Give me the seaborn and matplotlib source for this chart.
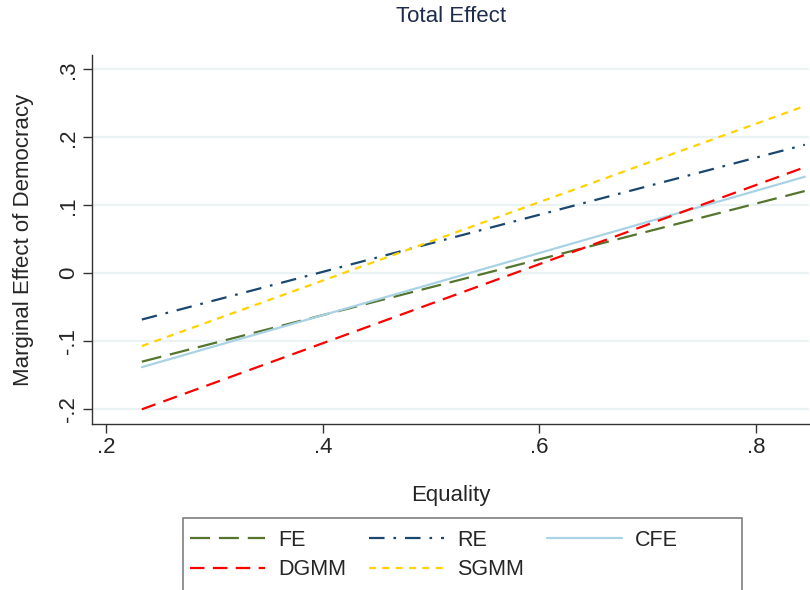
import matplotlib
matplotlib.use("Agg")
import matplotlib.pyplot as plt
import seaborn as sns
import pandas as pd
from matplotlib.patches import Rectangle
from matplotlib.lines import Line2D

# ---- data ----
equality = [0.233, 0.845]
fe = [-0.130, 0.121]
re = [-0.068, 0.189]
cfe = [-0.138, 0.142]
dgmm = [-0.200, 0.156]
sgmm = [-0.107, 0.246]
series_names = ["FE", "RE", "CFE", "DGMM", "SGMM"]
x_ticks = [0.2, 0.4, 0.6, 0.8]
x_tick_labels = [".2", ".4", ".6", ".8"]
y_ticks = [-0.2, -0.1, 0.0, 0.1, 0.2, 0.3]
y_tick_labels = ["-.2", "-.1", "0", ".1", ".2", ".3"]

values = {"FE": fe, "RE": re, "CFE": cfe, "DGMM": dgmm, "SGMM": sgmm}
rows = []
for name in series_names:
    for xv, yv in zip(equality, values[name]):
        rows.append({"Equality": xv, "Effect": yv, "Model": name})
df = pd.DataFrame(rows)

sns.set_style("white")
plt.rcParams["font.family"] = ["Liberation Sans", "DejaVu Sans"]

palette = {"FE": "#55752F", "RE": "#1A476F", "CFE": "#A9D3E4",
           "DGMM": "#FF0000", "SGMM": "#FFD200"}
dashes = {"FE": (9.0, 4.0), "RE": (7.0, 4.0, 1.2, 4.0), "CFE": "",
          "DGMM": (6.5, 3.8), "SGMM": (3.2, 2.8)}

fig = plt.figure(figsize=(8.1, 5.9), dpi=100)
ax = fig.add_axes([92/810, 1-424/590, 1-92/810-0.001, (424-55)/590])

sns.lineplot(data=df, x="Equality", y="Effect", hue="Model", style="Model",
             hue_order=series_names, style_order=series_names,
             palette=palette, dashes=dashes, linewidth=1.6, ax=ax, legend=False)
for ln in ax.get_lines():
    ln.set_dash_capstyle("butt")

ax.set_xlim(0.187, 0.849)
ax.set_ylim(-0.2216, 0.321)
ax.set_xticks(x_ticks)
ax.set_xticklabels(x_tick_labels)
ax.set_yticks(y_ticks)
ax.set_yticklabels(y_tick_labels)
ax.tick_params(axis="both", labelsize=16, length=6.5, width=1, color="#333333",
               direction="out", pad=3, left=True, bottom=True)
for lab in ax.get_yticklabels():
    lab.set_rotation(90)
    lab.set_va("center")
    lab.set_ha("right")
ax.grid(axis="y", color="#EAF2F3", linewidth=1.6)
ax.grid(axis="x", visible=False)
for s in ["top", "right"]:
    ax.spines[s].set_visible(False)
for s in ["left", "bottom"]:
    ax.spines[s].set_color("#333333")
    ax.spines[s].set_linewidth(1)

ax.set_xlabel("Equality", fontsize=16, labelpad=19)
ax.set_ylabel("Marginal Effect of Democracy", fontsize=16, labelpad=17)
ax.set_title("Total Effect", fontsize=16, color="#1E2B4D", pad=24)

# legend
lines = ax.get_lines()
hmap = dict(zip(series_names, lines[:5]))

def mk(name):
    ln = hmap[name]
    h = Line2D([0], [0], color=ln.get_color(), linewidth=ln.get_linewidth(),
               linestyle=ln.get_linestyle())
    if dashes[name]:
        h.set_dashes(dashes[name])
    h.set_dash_capstyle("butt")
    return h

order = ["FE", "DGMM", "RE", "SGMM", "CFE"]
leg = fig.legend([mk(n) for n in order], order, loc="upper left",
                 bbox_to_anchor=(190/810, 1-530/590), ncol=3,
                 frameon=False, fontsize=15.5, handlelength=3.5,
                 handletextpad=0.6, columnspacing=1.05, labelspacing=0.38,
                 borderpad=0, borderaxespad=0)
fig.patches.append(Rectangle((183/810, 1-591/590), (742-183)/810, (591-518)/590,
                             transform=fig.transFigure, fill=False,
                             edgecolor="#7F7F7F", linewidth=1.2))

fig.savefig("out.png", dpi=100, facecolor="white")
